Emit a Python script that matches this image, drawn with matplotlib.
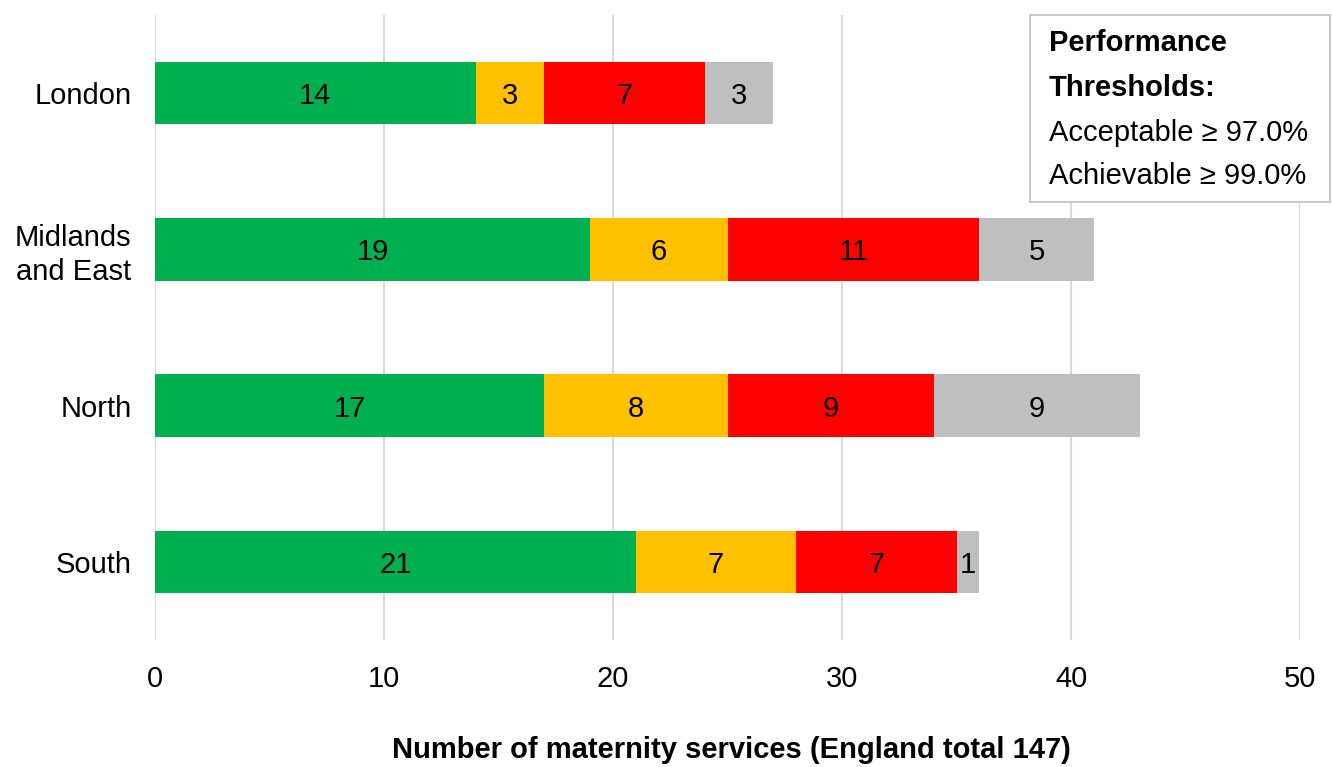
import numpy as np
import matplotlib.pyplot as plt

plt.rcParams["font.family"] = ["Liberation Sans", "DejaVu Sans"]

regions = ["London", "Midlands\nand East", "North", "South"]
achievable = [14, 19, 17, 21]
acceptable = [3, 6, 8, 7]
below = [7, 11, 9, 7]
no_data = [3, 5, 9, 1]

series = [achievable, acceptable, below, no_data]
colors = ["#00B050", "#FFC000", "#FF0000", "#BFBFBF"]


def main():
    fig = plt.figure(figsize=(13.32, 7.67), dpi=100)
    ax = fig.add_axes([0.1164, 0.1656, 0.8596, 0.8148])

    y = np.arange(len(regions))
    left = np.zeros(len(regions))
    for vals, col in zip(series, colors):
        vals = np.array(vals, dtype=float)
        ax.barh(y, vals, left=left, height=0.4, color=col, zorder=3)
        for yi, l, v in zip(y, left, vals):
            ax.text(l + v / 2, yi, f"{int(v)}", ha="center", va="center_baseline",
                    fontsize=21, color="black", zorder=4)
        left += vals

    ax.set_xlim(0, 50)
    ax.set_ylim(3.5, -0.5)
    ax.set_xticks(np.arange(0, 51, 10))
    ax.set_yticks(y)
    ax.set_yticklabels(regions, fontsize=21, linespacing=1.25)
    ax.tick_params(axis="x", labelsize=21, length=0, pad=18)
    ax.tick_params(axis="y", length=0, pad=17)
    for lbl in ax.get_yticklabels():
        lbl.set_horizontalalignment("right")
    ax.grid(axis="x", color="#D9D9D9", linewidth=1.5, zorder=0)
    for s in ax.spines.values():
        s.set_visible(False)

    fig.text(0.549, 0.022, "Number of maternity services (England total 147)",
             ha="center", va="center", fontsize=21, fontweight="bold")

    # threshold box
    box = plt.Rectangle((1030 / 1332, 1 - 202 / 767), 300 / 1332, 187 / 767,
                        transform=fig.transFigure, facecolor="white",
                        edgecolor="#BFBFBF", linewidth=1.2, zorder=5)
    fig.add_artist(box)
    tx = 1049 / 1332
    fig.text(tx, 1 - 43 / 767, "Performance", fontsize=21, fontweight="bold",
             va="center", ha="left", zorder=6)
    fig.text(tx, 1 - 88 / 767, "Thresholds:", fontsize=21, fontweight="bold",
             va="center", ha="left", zorder=6)
    fig.text(tx, 1 - 133 / 767, "Acceptable \u2265 97.0%", fontsize=21,
             va="center", ha="left", zorder=6)
    fig.text(tx, 1 - 176 / 767, "Achievable \u2265 99.0%", fontsize=21,
             va="center", ha="left", zorder=6)

    fig.savefig("out.png", dpi=100)


if __name__ == "__main__":
    main()
